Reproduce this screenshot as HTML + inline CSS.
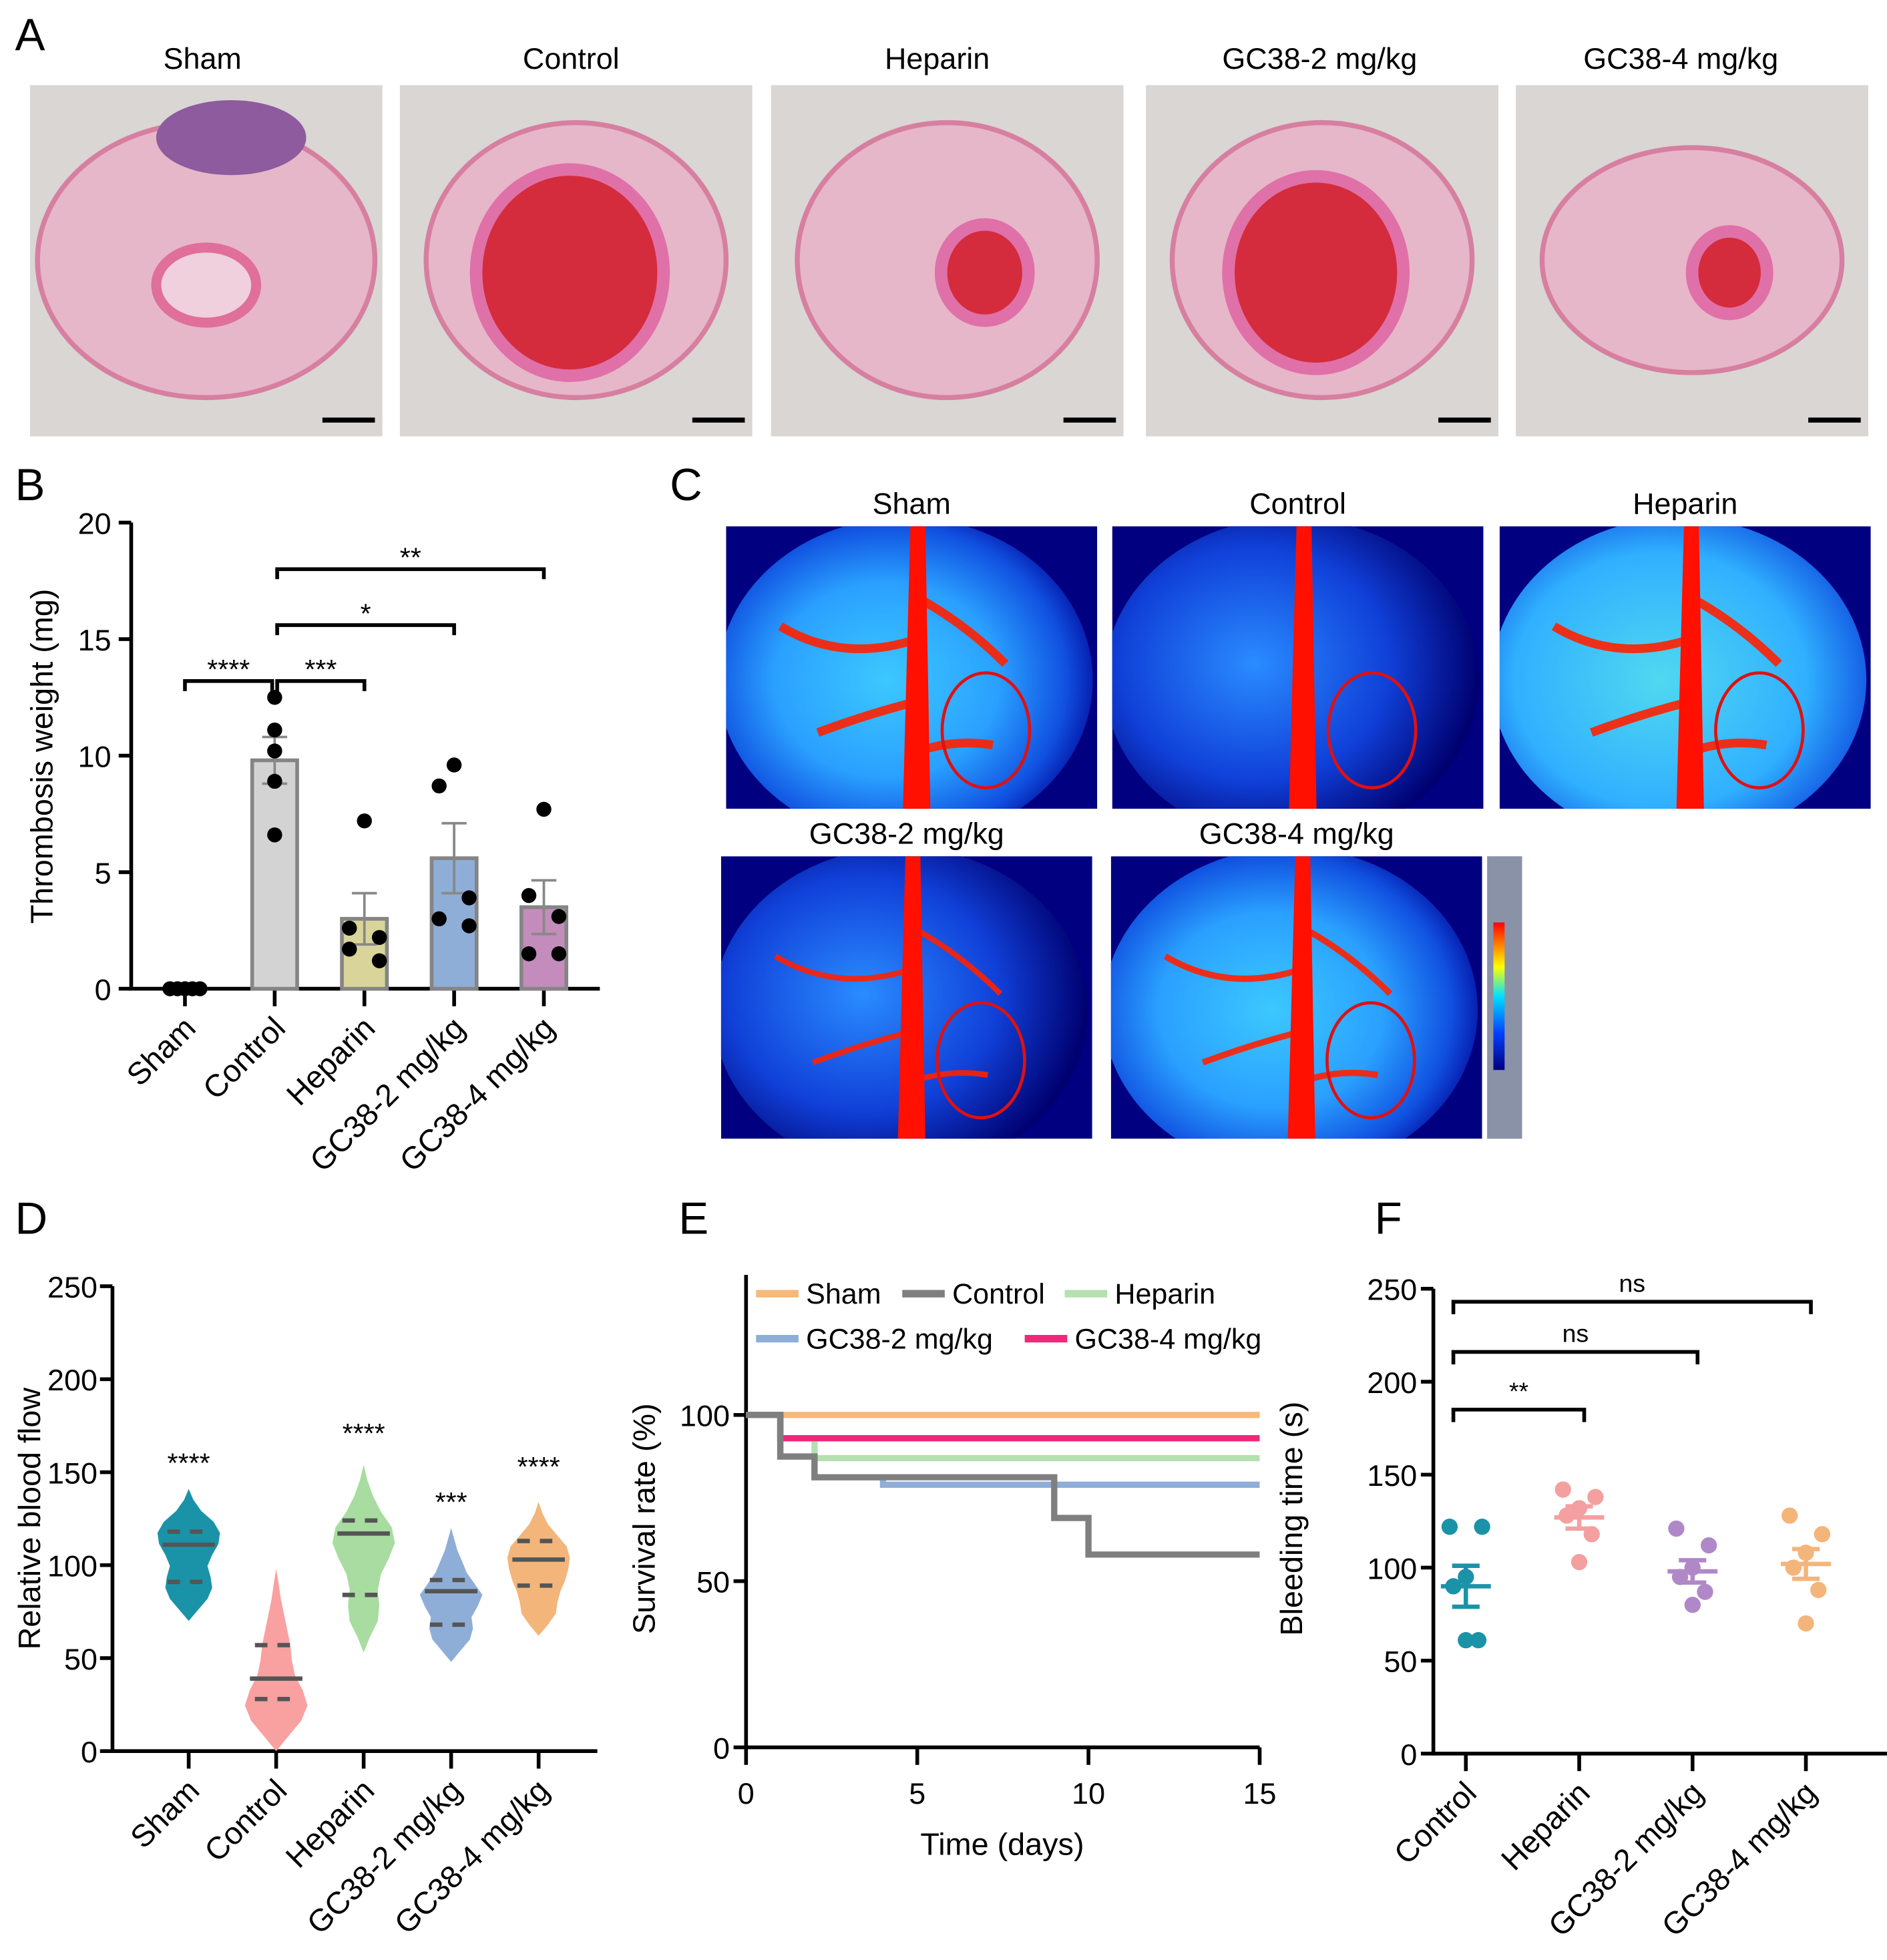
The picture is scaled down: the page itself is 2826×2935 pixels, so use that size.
<!DOCTYPE html>
<html><head><meta charset="utf-8"><style>
html,body{margin:0;padding:0;background:#fff}
svg{display:block}
text{font-family:"Liberation Sans",Arial,sans-serif;fill:#000}
</style></head><body>
<svg id="fig" width="2826" height="2935" viewBox="0 0 1510 1568" xmlns="http://www.w3.org/2000/svg">
<defs>
<radialGradient id="ldpiSham" cx="0.45" cy="0.5" r="0.6"><stop offset="0" stop-color="#3cc8ff"/><stop offset="0.5" stop-color="#2aa0ff"/><stop offset="0.8" stop-color="#1050e0"/><stop offset="1" stop-color="#000090"/></radialGradient>
<radialGradient id="ldpiCtrl" cx="0.4" cy="0.45" r="0.6"><stop offset="0" stop-color="#2a8cff"/><stop offset="0.6" stop-color="#1040d8"/><stop offset="1" stop-color="#000070"/></radialGradient>
<radialGradient id="ldpiHep" cx="0.45" cy="0.5" r="0.65"><stop offset="0" stop-color="#50d8f0"/><stop offset="0.6" stop-color="#30b0ff"/><stop offset="0.9" stop-color="#1050e0"/><stop offset="1" stop-color="#000090"/></radialGradient>
<linearGradient id="cbar" x1="0" y1="1" x2="0" y2="0"><stop offset="0" stop-color="#000080"/><stop offset="0.25" stop-color="#0040ff"/><stop offset="0.5" stop-color="#00e0ff"/><stop offset="0.7" stop-color="#ffff00"/><stop offset="1" stop-color="#ff0000"/></linearGradient>
</defs>
<g id="A"></g><g id="B"></g><g id="C"></g><g id="D"></g><g id="E"></g><g id="F"></g>
</svg>
<script>
// ---------- DATA ----------
const bCategories = ["Sham","Control","Heparin","GC38-2 mg/kg","GC38-4 mg/kg"];
const bMeans = [0, 9.8, 3.0, 5.6, 3.5];
const bSem = [0, 1.0, 1.1, 1.5, 1.15];
const bPoints = [[0,0,0,0,0],[12.5,11.1,10.2,8.9,6.6],[7.2,2.6,2.2,1.7,1.2],[9.6,8.7,3.9,3.0,2.7],[7.7,4.0,3.1,1.5,1.5]];
const bTicks = [0,5,10,15,20];

const dCategories = ["Sham","Control","Heparin","GC38-2 mg/kg","GC38-4 mg/kg"];
const dMin = [70, 0, 53, 48, 62];
const dMax = [141, 98, 154, 120, 134];
const dMedian = [111, 39, 117, 86, 103];
const dQ1 = [91, 28, 84, 68, 89];
const dQ3 = [118, 57, 124, 92, 113];
const dStars = ["****","","****","***","****"];
const dStarLevel = [158, 0, 174, 137, 156];
const dDensity = [
 [0,0.3,0.6,0.75,0.7,0.6,0.75,0.95,1,0.8,0.4,0.15,0],
 [0,0.4,0.8,1,0.85,0.6,0.5,0.45,0.35,0.25,0.15,0.08,0],
 [0,0.2,0.45,0.5,0.45,0.55,0.8,1,0.9,0.55,0.3,0.12,0],
 [0,0.3,0.6,0.7,0.65,0.85,1,0.75,0.5,0.35,0.2,0.1,0],
 [0,0.3,0.55,0.6,0.7,0.85,0.95,1,0.9,0.6,0.3,0.12,0]];
const dTicks = [0,50,100,150,200,250];

const eSeries = ["Sham","Control","Heparin","GC38-2 mg/kg","GC38-4 mg/kg"];
const eTimes = [[0,15],[0,1,2,9,10,15],[0,1,2,15],[0,1,2,4,15],[0,1,15]];
const eSurv = [[100,100],[100,87.5,81.25,69,58,58],[100,93,87,87],[100,87.5,81.25,79,79],[100,93,93]];
const eXTicks = [0,5,10,15];
const eYTicks = [0,50,100];

const fCategories = ["Control","Heparin","GC38-2 mg/kg","GC38-4 mg/kg"];
const fPoints = [[122,122,95,90,61,61],[142,138,132,128,118,103],[121,112,100,95,87,80],[128,118,108,100,88,70]];
const fMeans = [90, 127, 98, 102];
const fSem = [11, 6, 6, 8];
const fTicks = [0,50,100,150,200,250];

// ---------- helpers ----------
const NS="http://www.w3.org/2000/svg";
function el(tag,a,p){const e=document.createElementNS(NS,tag);for(const k in a)e.setAttribute(k,a[k]);p.appendChild(e);return e;}
function tx(p,x,y,s,size,anchor,rot){const e=el("text",{x:x,y:y,"font-size":size,"text-anchor":anchor||"middle"},p);if(rot!==undefined)e.setAttribute("transform","rotate("+rot+" "+x+" "+y+")");e.textContent=s;return e;}
const gA=document.getElementById("A"),gB=document.getElementById("B"),gC=document.getElementById("C"),gD=document.getElementById("D"),gE=document.getElementById("E"),gF=document.getElementById("F");
const TK=24, TT=25, XL=25;

// ---------- Panel A ----------
let t;
t=tx(gA,12,40,"A",36,"start");
const aTitles=["Sham","Control","Heparin","GC38-2 mg/kg","GC38-4 mg/kg"];
const aX=[24,320,617,917,1213];
const aClot=[0,0.75,0.35,0.7,0.3];
for(let i=0;i<5;i++){
 const x0=aX[i],cx=x0+141,cy=208;
 t=tx(gA,[162,457,750,1056,1345][i],55,aTitles[i],24);
 const r=el("rect",{x:x0,y:68,width:282,height:281,fill:"#d9d6d4"},gA);
 const tis=el("ellipse",{cx:cx,cy:cy,rx:i==0?135:120,ry:i==4?90:110,fill:"#e6b7c8",stroke:"#d77fa0","stroke-width":4},gA);
 if(aClot[i]>0){const c=el("ellipse",{cx:cx+(i==2||i==4?30:-5),cy:cy+10,rx:100*aClot[i],ry:110*aClot[i],fill:"#d42c3c",stroke:"#e070a8","stroke-width":10},gA);}
 else{const v=el("ellipse",{cx:cx,cy:cy+20,rx:40,ry:30,fill:"#f0d0dc",stroke:"#e06f9a","stroke-width":8},gA);
  const pu=el("ellipse",{cx:cx+20,cy:110,rx:60,ry:30,fill:"#8d5b9e"},gA);}
 const sb=el("rect",{x:x0+234,y:334,width:42,height:4,fill:"#000"},gA);
}

// ---------- Panel B ----------
t=tx(gB,12,400,"B",36,"start");
const bY=v=>791-v*18.65, bX=i=>148+i*71.8;
const bColors=["#d3d3d3","#d3d3d3","#d9d59a","#8eaed8","#c48cbc"];
let ax=el("path",{d:"M105 418 V791 H480",fill:"none",stroke:"#000","stroke-width":3},gB);
bTicks.forEach(v=>{const l=el("line",{x1:95,x2:105,y1:bY(v),y2:bY(v),stroke:"#000","stroke-width":3},gB);
 const s=tx(gB,89,bY(v)+9,String(v),TK,"end");});
t=tx(gB,42,605,"Thrombosis weight (mg)",TT,"middle",-90);
bCategories.forEach((c,i)=>{const x=bX(i);
 const tk=el("line",{x1:x,x2:x,y1:791,y2:805,stroke:"#000","stroke-width":3},gB);
 const lb=tx(gB,x+10,824,c,XL,"end",-45);
 if(bMeans[i]>0){const b=el("rect",{x:x-18,y:bY(bMeans[i]),width:36,height:791-bY(bMeans[i]),fill:bColors[i],stroke:"#858585","stroke-width":3},gB);
  const e=el("path",{d:`M${x} ${bY(bMeans[i]-bSem[i])} V${bY(bMeans[i]+bSem[i])} M${x-10} ${bY(bMeans[i]+bSem[i])} H${x+10} M${x-10} ${bY(bMeans[i]-bSem[i])} H${x+10}`,stroke:"#888","stroke-width":2,fill:"none"},gB);}
 bPoints[i].forEach((v,j)=>{const off=bMeans[i]===0?(j-2)*6:([0,-1,1,-1,1][j]*(i==1?0:12));
  const d=el("circle",{cx:x+off,cy:bY(v),r:6,fill:"#000"},gB);});
});
const bBr=[[0,1,13.2,"****"],[1,2,13.2,"***"],[1,3,15.6,"*"],[1,4,18.0,"**"]];
bBr.forEach(b=>{const x1=bX(b[0])+(b[0]==1?2:0),x2=bX(b[1])-(b[1]==1?2:0),y=bY(b[2]);
 const p=el("path",{d:`M${x1} ${y+8} V${y} H${x2} V${y+8}`,fill:"none",stroke:"#000","stroke-width":3},gB);
 const s=tx(gB,(x1+x2)/2,y-2,b[3],22);});

// ---------- Panel C ----------
t=tx(gC,536,400,"C",36,"start");
const cImgs=[[581,421,"Sham","url(#ldpiSham)",1],[890,421,"Control","url(#ldpiCtrl)",0],[1200,421,"Heparin","url(#ldpiHep)",1],[577,685,"GC38-2 mg/kg","url(#ldpiCtrl)",0.5],[889,685,"GC38-4 mg/kg","url(#ldpiSham)",0.6]];
const defs=document.querySelector("defs");
cImgs.forEach((c,ci)=>{const [x,y,n,g,k]=c;const w=297,h=226,cx=x+w/2;
 const cp=el("clipPath",{id:"cclip"+ci},defs);el("rect",{x:x,y:y,width:w,height:h},cp);
 const tt=tx(gC,cx,y-10,n,24);
 const grp=el("g",{"clip-path":"url(#cclip"+ci+")"},gC);
 const r=el("rect",{x:x,y:y,width:w,height:h,fill:"#000080"},grp);
 const e=el("ellipse",{cx:cx-5,cy:y+h/2+10,rx:150,ry:130,fill:g},grp);
 const vx=cx+5;
 if(k>0){const br=el("path",{d:`M${vx} ${y+90} Q${vx-60} ${y+110} ${vx-110} ${y+80} M${vx} ${y+140} Q${vx-40} ${y+150} ${vx-80} ${y+165} M${vx+5} ${y+60} Q${vx+40} ${y+80} ${vx+70} ${y+110} M${vx} ${y+180} Q${vx+30} ${y+170} ${vx+60} ${y+175}`,fill:"none",stroke:"#ff2000","stroke-width":5*k+2,opacity:0.9},grp);}
 const v=el("path",{d:`M${vx-6} ${y} L${vx+6} ${y} L${vx+10} ${y+h} L${vx-12} ${y+h} Z`,fill:"#ff1000"},grp);
 const o=el("ellipse",{cx:x+w*0.7,cy:y+h*0.74-4,rx:35,ry:46,fill:"none",stroke:"#e01010","stroke-width":2.5},grp);
});
let cb=el("rect",{x:1190,y:685,width:28,height:226,fill:"#8a92a8"},gC);
cb=el("rect",{x:1195,y:738,width:9,height:118,fill:"url(#cbar)"},gC);

// ---------- Panel D ----------
t=tx(gD,12,987,"D",36,"start");
const dY=v=>1401-v*1.488, dX=i=>151+i*70;
const dColors=["#1a93a8","#f9a0a0","#a8dca0","#8eaed8","#f3b57a"];
ax=el("path",{d:"M90 1029 V1401 H478",fill:"none",stroke:"#000","stroke-width":3},gD);
dTicks.forEach(v=>{const l=el("line",{x1:80,x2:90,y1:dY(v),y2:dY(v),stroke:"#000","stroke-width":3},gD);
 const s=tx(gD,78,dY(v)+9,String(v),TK,"end");});
t=tx(gD,32,1215,"Relative blood flow",TT,"middle",-90);
dCategories.forEach((c,i)=>{const x=dX(i);
 const tk=el("line",{x1:x,x2:x,y1:1401,y2:1415,stroke:"#000","stroke-width":3},gD);
 const lb=tx(gD,x+10,1434,c,XL,"end",-45);
 const n=dDensity[i].length,L=[],R=[];
 dDensity[i].forEach((d,k)=>{const v=dMin[i]+(dMax[i]-dMin[i])*k/(n-1);L.push([x-d*25,dY(v)]);R.push([x+d*25,dY(v)]);});
 const pts=L.concat(R.reverse());
 let dd="M"+pts.map(p=>p[0].toFixed(1)+" "+p[1].toFixed(1)).join(" L")+"Z";
 const vp=el("path",{d:dd,fill:dColors[i],"stroke-linejoin":"round"},gD);
 const md=el("line",{x1:x-21,x2:x+21,y1:dY(dMedian[i]),y2:dY(dMedian[i]),stroke:"#555","stroke-width":3.5},gD);
 [dQ1[i],dQ3[i]].forEach(q=>{const ql=el("line",{x1:x-17,x2:x+17,y1:dY(q),y2:dY(q),stroke:"#555","stroke-width":3.5,"stroke-dasharray":"10 8"},gD);});
 if(dStars[i]){const s=tx(gD,x,dY(dStarLevel[i])+12,dStars[i],22);}
});

// ---------- Panel E ----------
t=tx(gE,543,987,"E",36,"start");
const eX=v=>597+v*27.4, eY=v=>1398-v*2.66;
const eColors=["#f5b97a","#7f7f7f","#b5e0b0","#8eaed8","#f0287a"];
ax=el("path",{d:"M597 1020 V1398 H1008",fill:"none",stroke:"#000","stroke-width":3},gE);
eYTicks.forEach(v=>{const l=el("line",{x1:587,x2:597,y1:eY(v),y2:eY(v),stroke:"#000","stroke-width":3},gE);
 const s=tx(gE,584,eY(v)+9,String(v),TK,"end");});
eXTicks.forEach(v=>{const l=el("line",{x1:eX(v),x2:eX(v),y1:1398,y2:1412,stroke:"#000","stroke-width":3},gE);
 const s=tx(gE,eX(v),1443,String(v),TK);});
t=tx(gE,524,1215,"Survival rate (%)",TT,"middle",-90);
t=tx(gE,802,1484,"Time (days)",TT);
[0,2,3,4,1].forEach(i=>{const T=eTimes[i],S=eSurv[i];let d="M"+eX(T[0])+" "+eY(S[0]);
 for(let k=1;k<T.length;k++){d+=" H"+eX(T[k])+" V"+eY(S[k]);}
 const p=el("path",{d:d,fill:"none",stroke:eColors[i],"stroke-width":5},gE);});
const eLeg=[[605,1035],[722,1035],[852,1035],[605,1071],[820,1071]];
eSeries.forEach((s,i)=>{const [lx,ly]=eLeg[i];
 const l=el("line",{x1:lx,x2:lx+34,y1:ly,y2:ly,stroke:eColors[i],"stroke-width":6},gE);
 const tt=tx(gE,lx+40,ly+8,s,23,"start");});

// ---------- Panel F ----------
t=tx(gF,1100,987,"F",36,"start");
const fY=v=>1403-v*1.488, fX=i=>1173+i*90.7;
const fColors=["#1a93a8","#f4a0a0","#b088c8","#f3b57a"];
ax=el("path",{d:"M1147 1031 V1403 H1510",fill:"none",stroke:"#000","stroke-width":3},gF);
fTicks.forEach(v=>{const l=el("line",{x1:1137,x2:1147,y1:fY(v),y2:fY(v),stroke:"#000","stroke-width":3},gF);
 const s=tx(gF,1134,fY(v)+9,String(v),TK,"end");});
t=tx(gF,1042,1215,"Bleeding time (s)",TT,"middle",-90);
const fOff=[-13,13,0,-10,10,0];
fCategories.forEach((c,i)=>{const x=fX(i);
 const tk=el("line",{x1:x,x2:x,y1:1403,y2:1417,stroke:"#000","stroke-width":3},gF);
 const lb=tx(gF,x+10,1436,c,XL,"end",-45);
 fPoints[i].forEach((v,j)=>{const d=el("circle",{cx:x+fOff[j],cy:fY(v),r:6.5,fill:fColors[i]},gF);});
 const m=el("path",{d:`M${x-20} ${fY(fMeans[i])} H${x+20} M${x} ${fY(fMeans[i]-fSem[i])} V${fY(fMeans[i]+fSem[i])} M${x-11} ${fY(fMeans[i]-fSem[i])} H${x+11} M${x-11} ${fY(fMeans[i]+fSem[i])} H${x+11}`,stroke:fColors[i],"stroke-width":3.5,fill:"none"},gF);
});
const fBr=[[0,1,185,"**"],[0,2,216,"ns"],[0,3,243,"ns"]];
fBr.forEach(b=>{const x1=fX(b[0])-10,x2=fX(b[1])+4,y=fY(b[2]);
 const p=el("path",{d:`M${x1} ${y+10} V${y} H${x2} V${y+10}`,fill:"none",stroke:"#000","stroke-width":3},gF);
 const s=tx(gF,(x1+x2)/2,y-8,b[3],20);});
</script>
</body></html>
